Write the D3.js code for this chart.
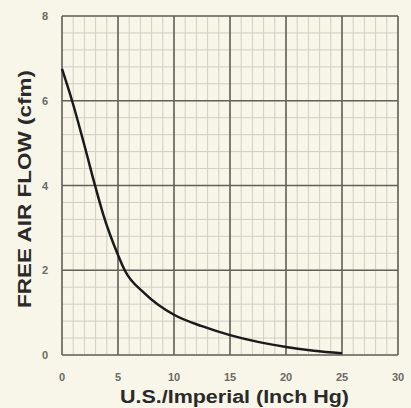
<!DOCTYPE html>
<html>
<head>
<meta charset="utf-8">
<script src="https://cdn.jsdelivr.net/npm/d3@7"></script>
<style>
  body { margin: 0; background: #f8f6e8; }
  svg { display: block; }
</style>
</head>
<body>
<svg></svg>
<script>
var width = 411,
    height = 408;

// readings
var vacuum = [0, 0.9, 2.0, 2.95, 3.7, 5.0, 5.6, 7.4, 10, 12.5, 15, 17.5, 20, 22.5, 25];
var airflow = [6.75, 6.0, 4.95, 4.0, 3.3, 2.36, 2.0, 1.45, 0.95, 0.68, 0.47, 0.31, 0.19, 0.1, 0.04];

var xTicks = [0, 5, 10, 15, 20, 25, 30];
var yTicks = [0, 2, 4, 6, 8];

var margin = {top: 16, right: 13, bottom: 53, left: 62};

var svg = d3.select("svg")
    .attr("width", width)
    .attr("height", height);

var x = d3.scaleLinear().domain([0, 30]).range([margin.left, width - margin.right]);
var y = d3.scaleLinear().domain([0, 8]).range([height - margin.bottom, margin.top]);

var g = svg.append("g");

// minor grid
g.append("g")
    .selectAll("line")
    .data(d3.range(0, 30.01, 1))
    .enter().append("line")
    .attr("x1", x).attr("x2", x)
    .attr("y1", y(0)).attr("y2", y(8))
    .attr("stroke", "#cfcfc4").attr("stroke-width", 1);

g.append("g")
    .selectAll("line")
    .data(d3.range(0, 8.01, 0.4))
    .enter().append("line")
    .attr("y1", y).attr("y2", y)
    .attr("x1", x(0)).attr("x2", x(30))
    .attr("stroke", "#cfcfc4").attr("stroke-width", 1);

// major grid
g.append("g")
    .selectAll("line")
    .data(xTicks)
    .enter().append("line")
    .attr("x1", x).attr("x2", x)
    .attr("y1", y(0)).attr("y2", y(8))
    .attr("stroke", "#62625c").attr("stroke-width", 1.6);

g.append("g")
    .selectAll("line")
    .data(yTicks)
    .enter().append("line")
    .attr("y1", y).attr("y2", y)
    .attr("x1", x(0)).attr("x2", x(30))
    .attr("stroke", "#62625c").attr("stroke-width", 1.6);

// curve
var points = vacuum.map(function (v, i) { return [v, airflow[i]]; });
var line = d3.line()
    .x(function (d) { return x(d[0]); })
    .y(function (d) { return y(d[1]); })
    .curve(d3.curveMonotoneX);

g.append("path")
    .datum(points)
    .attr("d", line)
    .attr("fill", "none")
    .attr("stroke", "#1a1a1a")
    .attr("stroke-width", 2.5);

// tick labels
var tickFont = "Liberation Sans, Arial, sans-serif";
g.append("g")
    .selectAll("text")
    .data(xTicks)
    .enter().append("text")
    .attr("x", x)
    .attr("y", y(0) + 26)
    .attr("text-anchor", "middle")
    .attr("font-family", tickFont)
    .attr("font-size", 11)
    .attr("font-weight", "bold")
    .attr("fill", "#6a6a66")
    .text(function (d) { return d; });

g.append("g")
    .selectAll("text")
    .data(yTicks)
    .enter().append("text")
    .attr("x", margin.left - 14)
    .attr("y", function (d) { return y(d) + 4; })
    .attr("text-anchor", "end")
    .attr("font-family", tickFont)
    .attr("font-size", 11)
    .attr("font-weight", "bold")
    .attr("fill", "#6a6a66")
    .text(function (d) { return d; });

// axis titles
svg.append("text")
    .attr("x", 120)
    .attr("y", 403)
    .attr("textLength", 229)
    .attr("lengthAdjust", "spacingAndGlyphs")
    .attr("font-family", tickFont)
    .attr("font-size", 18)
    .attr("font-weight", "bold")
    .attr("fill", "#2a2a2a")
    .text("U.S./Imperial (Inch Hg)");

svg.append("text")
    .attr("transform", "translate(31,308) rotate(-90)")
    .attr("textLength", 238)
    .attr("lengthAdjust", "spacingAndGlyphs")
    .attr("font-family", tickFont)
    .attr("font-size", 18)
    .attr("font-weight", "bold")
    .attr("fill", "#2a2a2a")
    .text("FREE AIR FLOW (cfm)");
</script>
</body>
</html>
